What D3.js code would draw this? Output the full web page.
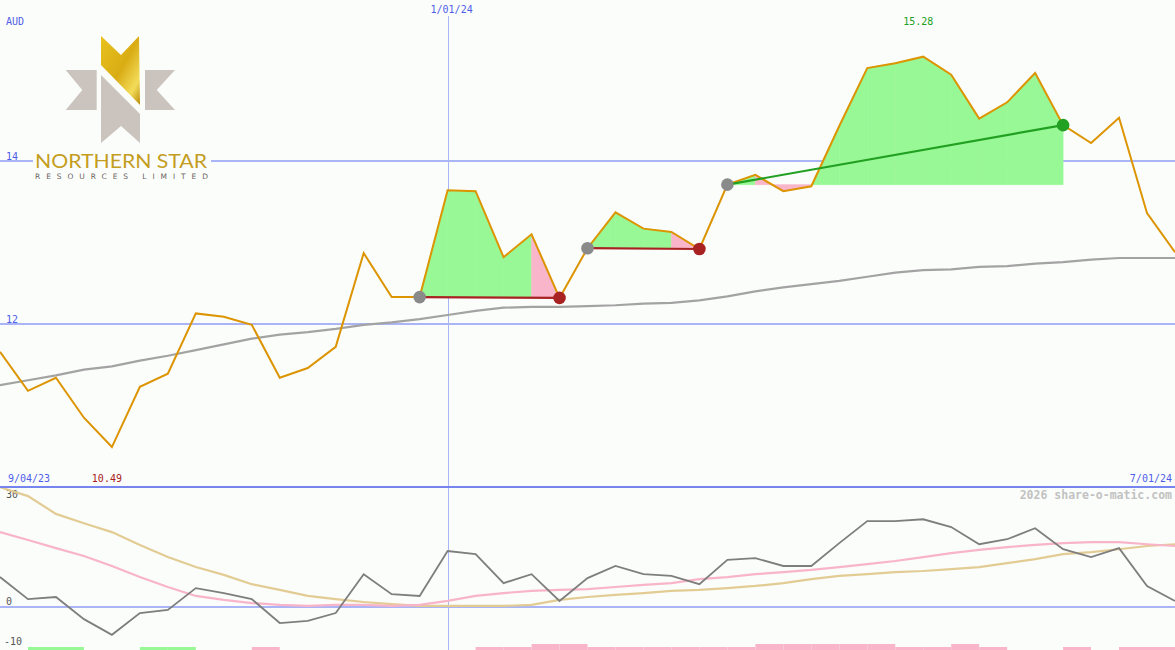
<!DOCTYPE html>
<html><head><meta charset="utf-8">
<script src="https://cdn.jsdelivr.net/npm/d3@7"></script>
<style>html,body{margin:0;padding:0;background:#fbfdfb;overflow:hidden}</style>
</head><body><svg id="c" width="1175" height="650"></svg>
<script>
// ---- data ----
const currency = "AUD";
const price = [11.66,11.18,11.34,10.85,10.49,11.23,11.39,12.13,12.09,11.99,11.34,11.46,11.72,12.87,12.33,12.33,13.64,13.63,12.82,13.10,12.32,12.93,13.37,13.17,13.13,12.92,13.71,13.83,13.63,13.69,14.43,15.14,15.20,15.28,15.06,14.52,14.72,15.08,14.44,14.22,14.53,13.36,12.88];
const movingAvg = [11.25,11.31,11.37,11.44,11.48,11.55,11.61,11.68,11.75,11.82,11.87,11.90,11.94,11.99,12.02,12.06,12.11,12.16,12.20,12.21,12.21,12.22,12.23,12.25,12.26,12.29,12.34,12.40,12.45,12.49,12.53,12.58,12.63,12.66,12.67,12.70,12.71,12.74,12.76,12.79,12.81,12.81,12.81];
const oscMain = [8.4,2.2,2.8,-3.4,-7.8,-1.7,-0.8,5.3,3.9,2.2,-4.5,-3.9,-1.7,9.2,3.6,3.1,15.7,14.8,6.7,9.2,1.7,8.1,11.5,9.2,8.7,6.4,13.2,13.7,11.5,11.5,17.9,24.1,24.1,24.6,22.4,17.6,19.0,22.1,16.2,14.0,16.5,5.9,1.7];
const oscPink = [21.0,18.8,16.5,14.3,11.5,8.4,5.6,3.1,2.0,1.1,0.6,0.3,0.6,0.6,0.3,0.6,1.7,3.1,3.9,4.5,4.8,5.0,5.6,6.2,6.7,7.8,8.4,9.2,9.8,10.4,11.2,12.0,12.9,14.0,15.1,16.0,16.8,17.4,17.9,18.2,18.2,17.6,17.1];
const oscTan = [33.6,31.1,26.1,23.5,21.0,17.4,14.0,11.2,9.0,6.4,4.8,3.1,2.2,1.4,0.8,0.3,0.3,0.3,0.3,0.6,2.0,2.8,3.4,3.9,4.5,4.8,5.3,5.9,6.7,7.8,8.7,9.2,9.8,10.1,10.6,11.2,12.3,13.4,14.8,15.4,16.2,17.1,17.6];
// signal bars per interval i -> i+1 (positive = green, negative = pink; magnitude = level)
const signalBars = [0,1,1,0,0,1,1,0,0,-1,0,0,0,0,0,0,0,-1,-1,-2,-2,-1,-1,-1,-1,-1,-1,-2,-2,-2,-2,-2,-1,-1,-2,-1,0,0,-1,0,-1,-1];
const priceTicks = [14, 12];
const oscTicks = [30, 0, -10];
const startLabel = "9/04/23";
const endLabel = "7/01/24";
const midDateLabel = "1/01/24";
const midDateIndex = 16;
const trades = [
  {entry: 15, exit: 20, fills: "ggggp"},
  {entry: 21, exit: 25, fills: "gggp"},
  {entry: 26, exit: 38, fills: "gppggggggggg"}
];
const copyright = "2026 share-o-matic.com";

// ---- drawing ----
const W = 1175, H = 650;
const svg = d3.select("#c");
const BG = "#fbfdfb";
svg.append("rect").attr("width", W).attr("height", H).attr("fill", BG);

const x = d3.scaleLinear().domain([0, price.length - 1]).range([0, W]);
const y = d3.scaleLinear().domain([12, 14]).range([324, 161]);
const yo = d3.scaleLinear().domain([0, 30]).range([607, 500]);
const barH = d3.scaleLinear().domain([0, 2]).range([0, 6]);

const MONO = "'DejaVu Sans Mono', monospace";
const BLUE_TXT = "#4f5ee8";
const GRID = "#a9b5f6";

// clip for main panel
const defs = svg.append("defs");
defs.append("clipPath").attr("id", "mainClip").append("rect").attr("x", 0).attr("y", 0).attr("width", W).attr("height", 486);
defs.append("clipPath").attr("id", "oscClip").append("rect").attr("x", 0).attr("y", 488).attr("width", W).attr("height", 162);

// grid lines main
svg.selectAll(".hg").data(priceTicks).enter().append("line")
  .attr("x1", 0).attr("x2", W).attr("y1", d => y(d)).attr("y2", d => y(d))
  .attr("stroke", GRID).attr("stroke-width", 2);
// vertical date line
svg.append("line").attr("x1", Math.round(x(midDateIndex)) + 0.5).attr("x2", Math.round(x(midDateIndex)) + 0.5)
  .attr("y1", 16).attr("y2", H).attr("stroke", GRID).attr("stroke-width", 1);

const main = svg.append("g").attr("clip-path", "url(#mainClip)");

// trade fills
trades.forEach(t => {
  const base = price[t.entry];
  for (let j = t.entry; j < t.exit; j++) {
    const seg = [j, j + 1];
    const col = t.fills[j - t.entry] === "g" ? "#98f896" : "#f9b6cb";
    main.append("path").datum(seg)
      .attr("d", d3.area().x(i => x(i)).y0(() => y(base)).y1(i => y(price[i])))
      .attr("fill", col).attr("stroke", col).attr("stroke-width", 0.6);
  }
});

// moving average
main.append("path").datum(movingAvg)
  .attr("d", d3.line().x((d, i) => x(i)).y(d => y(d)))
  .attr("fill", "none").attr("stroke", "#a3a3a3").attr("stroke-width", 2.2);

// price line
main.append("path").datum(price)
  .attr("d", d3.line().x((d, i) => x(i)).y(d => y(d)))
  .attr("fill", "none").attr("stroke", "#dc9400").attr("stroke-width", 2);

// trade lines and markers
trades.forEach(t => {
  const gain = price[t.exit] >= price[t.entry];
  const col = gain ? "#22a022" : "#a82222";
  main.append("line")
    .attr("x1", x(t.entry)).attr("y1", y(price[t.entry]))
    .attr("x2", x(t.exit)).attr("y2", y(price[t.exit]))
    .attr("stroke", col).attr("stroke-width", 2.2);
  main.append("circle").attr("cx", x(t.entry)).attr("cy", y(price[t.entry])).attr("r", 6.3).attr("fill", "#8a8a8a");
  main.append("circle").attr("cx", x(t.exit)).attr("cy", y(price[t.exit])).attr("r", 6.3).attr("fill", col);
});

// ---- logo ----
const logo = svg.append("g");
logo.append("rect").attr("x", 33).attr("y", 30).attr("width", 178).attr("height", 152).attr("fill", BG);
const gold = defs.append("linearGradient").attr("id", "gold").attr("x1", "0").attr("y1", "0").attr("x2", "1").attr("y2", "1");
gold.append("stop").attr("offset", "0").attr("stop-color", "#e8c21e");
gold.append("stop").attr("offset", "0.5").attr("stop-color", "#d9ac14");
gold.append("stop").attr("offset", "0.8").attr("stop-color", "#f3dc5a");
gold.append("stop").attr("offset", "1").attr("stop-color", "#b88a08");
const grey = "#cbc3be";
const poly = pts => "M" + pts.map(p => p.join(",")).join("L") + "Z";
logo.append("path").attr("d", poly([[101,36],[121,55],[139,36],[140,105],[101,65]])).attr("fill", "url(#gold)");
logo.append("path").attr("d", poly([[101,75],[140,114],[140,143],[121,126],[101,143]])).attr("fill", grey);
logo.append("path").attr("d", poly([[65.7,70],[96.7,70],[96.7,110],[65.7,110],[82.3,90]])).attr("fill", grey);
logo.append("path").attr("d", poly([[145,70],[175,70],[156.7,90],[175,110],[145,110]])).attr("fill", grey);
logo.append("text").attr("x", 35).attr("y", 168).text("NORTHERN STAR")
  .attr("font-family", "Lato, 'Open Sans', sans-serif").attr("font-size", 19.5)
  .attr("fill", "#c49d1f").attr("textLength", 172).attr("lengthAdjust", "spacingAndGlyphs");
logo.append("text").attr("x", 35).attr("y", 179).text("RESOURCES LIMITED")
  .attr("font-family", "'DejaVu Sans', sans-serif").attr("font-size", 7.5)
  .attr("fill", "#6c645e").attr("textLength", 173).attr("lengthAdjust", "spacing");

// ---- texts main ----
const txt = (s, px, py, col, anchor, size, weight) => svg.append("text").text(s)
  .attr("x", px).attr("y", py).attr("fill", col).attr("text-anchor", anchor || "start")
  .attr("font-family", MONO).attr("font-size", size || 10).attr("font-weight", weight || "normal");
txt(currency, 6, 25, BLUE_TXT);
priceTicks.forEach(v => txt(String(v), 6, y(v) - 1.5, BLUE_TXT));
txt(midDateLabel, x(midDateIndex) + 4, 13, BLUE_TXT, "middle");
const iMax = price.indexOf(d3.max(price)), iMin = price.indexOf(d3.min(price));
txt(d3.max(price).toFixed(2), x(iMax) - 5, 25, "#22a022", "middle");
txt(d3.min(price).toFixed(2), x(iMin) - 5, 482, "#aa2020", "middle");
txt(startLabel, 8, 482, BLUE_TXT);
txt(endLabel, 1172, 482, BLUE_TXT, "end");

// separator
svg.append("line").attr("x1", 0).attr("x2", W).attr("y1", 487).attr("y2", 487).attr("stroke", "#7584ee").attr("stroke-width", 2);

// ---- oscillator panel ----
svg.append("line").attr("x1", 0).attr("x2", W).attr("y1", yo(0)).attr("y2", yo(0)).attr("stroke", GRID).attr("stroke-width", 2);
txt(copyright, 1172, 499, "#c2c2c2", "end", 11.5, "bold");
oscTicks.forEach(v => txt(String(v), v < 0 ? 4 : 6, yo(v) - 2 + (v < 0 ? 4 : 0), "#555555"));

const osc = svg.append("g").attr("clip-path", "url(#oscClip)");
const oline = d3.line().x((d, i) => x(i)).y(d => yo(d));
osc.append("path").datum(oscTan).attr("d", oline).attr("fill", "none").attr("stroke", "#e2cc94").attr("stroke-width", 2.2);
osc.append("path").datum(oscPink).attr("d", oline).attr("fill", "none").attr("stroke", "#f8b4c8").attr("stroke-width", 2.2);
osc.append("path").datum(oscMain).attr("d", oline).attr("fill", "none").attr("stroke", "#7e7e7e").attr("stroke-width", 1.8);

// signal bars
osc.selectAll(".sb").data(signalBars.map((v, i) => ({v, i})).filter(d => d.v !== 0)).enter().append("rect")
  .attr("x", d => x(d.i)).attr("width", d => x(d.i + 1) - x(d.i))
  .attr("y", d => H - barH(Math.abs(d.v))).attr("height", d => barH(Math.abs(d.v)))
  .attr("fill", d => d.v > 0 ? "#98f896" : "#f9b6cb");
</script>
</body></html>
